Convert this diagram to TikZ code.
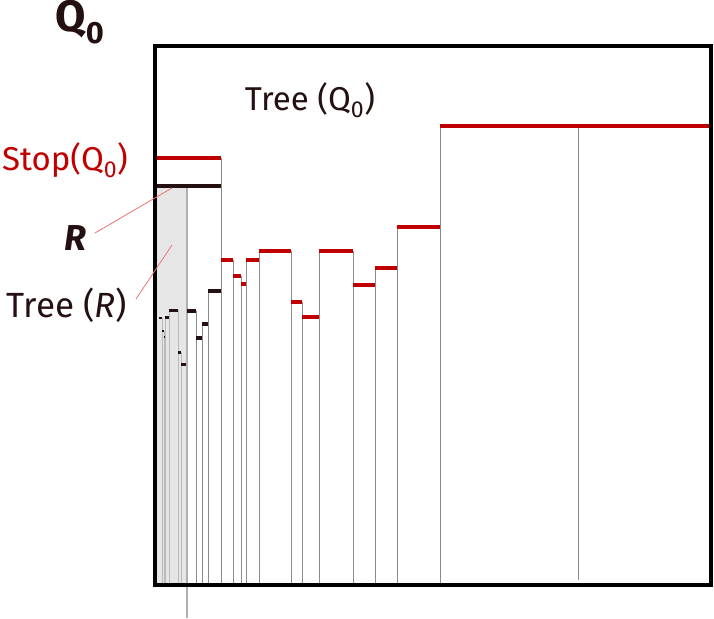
\documentclass[tikz,border=0pt]{standalone}
\usepackage{fontspec}
\setmainfont{Fira Sans}
\definecolor{barred}{HTML}{C00000}
\definecolor{inkdark}{HTML}{241010}
\definecolor{colgray}{HTML}{8C8C8C}
\definecolor{regiongray}{HTML}{E6E6E6}
\definecolor{pointer}{HTML}{F07070}
\begin{document}
\begin{tikzpicture}[x=1pt,y=-1pt,
  redbar/.style={draw=barred,line width=4pt},
  blackbar/.style={draw=inkdark,line width=3.5pt},
  smallbar/.style={draw=inkdark,line width=2.5pt},
  colline/.style={draw=colgray,line width=1pt},
  lightline/.style={draw=colgray!60,line width=0.9pt},
  ptr/.style={draw=pointer,line width=0.8pt},
  lbl/.style={inner sep=0pt,text=inkdark}]
\useasboundingbox (0,0) rectangle (714,618);
% shaded Tree(R) region
\fill[fill=regiongray] (157,186) rectangle (187,585);
% verticals inside shaded region
\foreach \x/\y in {162/318,164/331,165.3/317,169.3/310,178/310,181.3/352}
  \draw[lightline] (\x,\y) -- (\x,585);
% extended gray line
\draw[draw=colgray!70,line width=1.2pt] (187,186) -- (187,618);
% main verticals
\foreach \x/\y in {196/311,202/324,208/291,221/158,233/260,241/276,246/260,259/251,291/251,302/302,319/251,353/251,375/268,397/227,440/126}
  \draw[colline] (\x,\y) -- (\x,585);
\draw[colline] (578,126) -- (578,580);
% small bars inside shaded region
\foreach \a/\b/\y in {158.7/162/318,162/164/331,164/165.3/337,165.3/168.7/317.3,169.3/178/310.3,178/181.3/352.3,181.3/186/364.3}
  \draw[smallbar] (\a,\y) -- (\b,\y);
% black bars
\foreach \a/\b/\y in {187/196/311,196/202/338,202/208/324,208/221/291}
  \draw[blackbar] (\a,\y) -- (\b,\y);
% red bars
\foreach \a/\b/\y in {221/233/260,233/241/276,241/246/284,246/259/260,259/291/251,291/302/302,302/319/317,319/353/251,353/375/285,375/397/268,397/440/227,440/709/126}
  \draw[redbar] (\a,\y) -- (\b,\y);
% Stop and R bars
\draw[redbar] (157,158) -- (221,158);
\draw[blackbar,line width=4pt] (157,186) -- (221,186);
% outer box
\draw[black,line width=4pt] (155,46) rectangle (711,585);
% labels
\node[lbl,font=\bfseries\fontsize{44}{44}\selectfont] (q0) at (80,22) {Q\textsubscript{0}};
\node[lbl,font=\fontsize{33}{33}\selectfont] (treeq) at (310,100) {Tree (Q\textsubscript{0})};
\node[lbl,text=barred,font=\fontsize{33}{33}\selectfont] (stop) at (65,160) {Stop(Q\textsubscript{0})};
\node[lbl,font=\bfseries\itshape\fontsize{36}{36}\selectfont] (r) at (75,238) {R};
\node[lbl,font=\fontsize{35}{35}\selectfont] (treer) at (67,305) {Tree (\textit{R})};
\coordinate (rpt) at (172,188);
\coordinate (trpt) at (172,245);
\draw[ptr] (95,233) -- (rpt);
\draw[ptr] (136,299) -- (trpt);
\end{tikzpicture}
\end{document}
